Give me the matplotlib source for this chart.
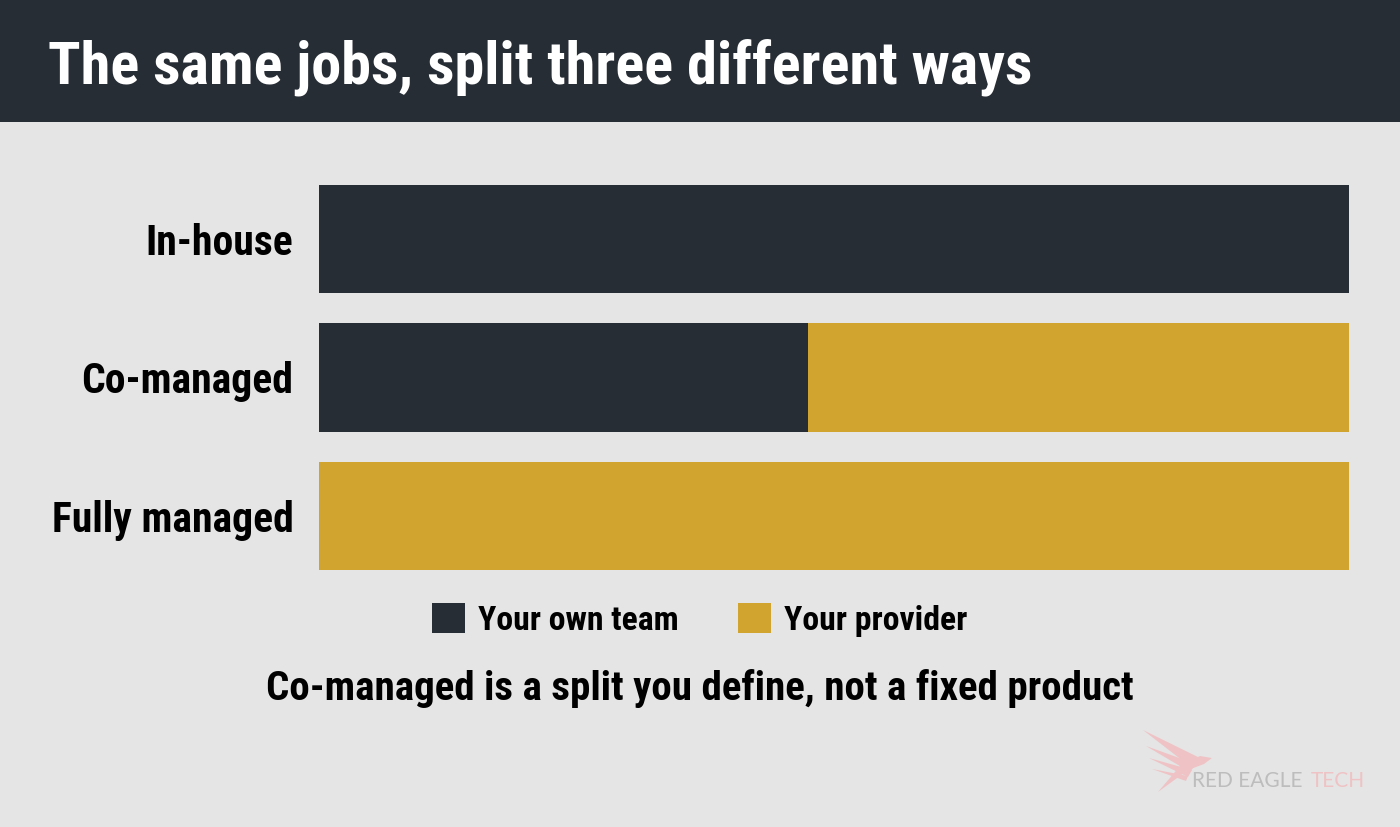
import matplotlib.pyplot as plt
from matplotlib.patches import Rectangle, Polygon, Patch

# data
categories = ["In-house", "Co-managed", "Fully managed"]
own_team = [100, 47.5, 0]
provider = [0, 52.5, 100]
series_names = ["Your own team", "Your provider"]

title = "The same jobs, split three different ways"
note = "Co-managed is a split you define, not a fixed product"

DARK = "#272d35"
GOLD = "#d1a32f"
BG = "#e5e5e5"

plt.rcParams['font.family'] = ['Roboto Condensed', 'Liberation Sans Narrow', 'DejaVu Sans']

W, H = 1400, 827
fig = plt.figure(figsize=(14, 8.27), dpi=100, facecolor=BG)

# header band
fig.patches.append(Rectangle((0, 1 - 122 / H), 1, 122 / H, transform=fig.transFigure,
                             facecolor=DARK, edgecolor="none", zorder=0))
fig.text(48 / W, 1 - 84 / H, title, color="white", fontsize=43.4, fontweight="bold",
         ha="left", va="baseline")

# bars
ax = fig.add_axes([319 / W, 1 - 570 / H, 1030 / W, 385 / H])
ax.set_facecolor("none")
y = list(range(len(categories)))
ax.barh(y, own_team, height=0.78, color=DARK, label=series_names[0])
ax.barh(y, provider, left=own_team, height=0.78, color=GOLD, label=series_names[1])
ax.set_xlim(0, 100)
ax.set_ylim(2.39, -0.39)
ax.set_yticks(y)
ax.set_yticklabels(categories, fontsize=30, fontweight="bold")
ax.tick_params(axis="y", length=0, pad=18.5)
ax.set_xticks([])
for s in ax.spines.values():
    s.set_visible(False)

# legend
handles = [Patch(facecolor=DARK), Patch(facecolor=GOLD)]
fig.legend(handles, series_names, loc="center", bbox_to_anchor=(0.5, 1 - 620 / H),
           ncol=2, frameon=False, handlelength=0.97, handleheight=0.97,
           handletextpad=0.4, columnspacing=1.75,
           prop={"size": 24.3, "weight": "bold"})

fig.text(0.5, 1 - 689 / H, note, fontsize=29.5, fontweight="bold", ha="center", va="center")

# faint logo
pink = "#efc3c5"
feathers = [
    [(1143, 730), (1200, 758), (1192, 768)],
    [(1146, 746), (1196, 764), (1190, 772)],
    [(1149, 758), (1192, 770), (1188, 777)],
    [(1152, 769), (1188, 776), (1186, 781)],
]
for f in feathers:
    fig.patches.append(Polygon([(px / W, 1 - py / H) for px, py in f], closed=True,
                               transform=fig.transFigure, facecolor=pink, edgecolor="none"))
body = [(1158, 792), (1180, 766), (1200, 756), (1212, 758), (1204, 764), (1188, 770)]
fig.patches.append(Polygon([(px / W, 1 - py / H) for px, py in body], closed=True,
                           transform=fig.transFigure, facecolor=pink, edgecolor="none"))
fig.text(1192 / W, 1 - 787 / H, "RED EAGLE", color="#bdbdbd", fontsize=15,
         family=["Lato", "DejaVu Sans"], ha="left", va="baseline")
fig.text(1365 / W, 1 - 787 / H, "TECH", color=pink, fontsize=15,
         family=["Lato", "DejaVu Sans"], ha="right", va="baseline")

fig.savefig("out.png", dpi=100, facecolor=BG)
